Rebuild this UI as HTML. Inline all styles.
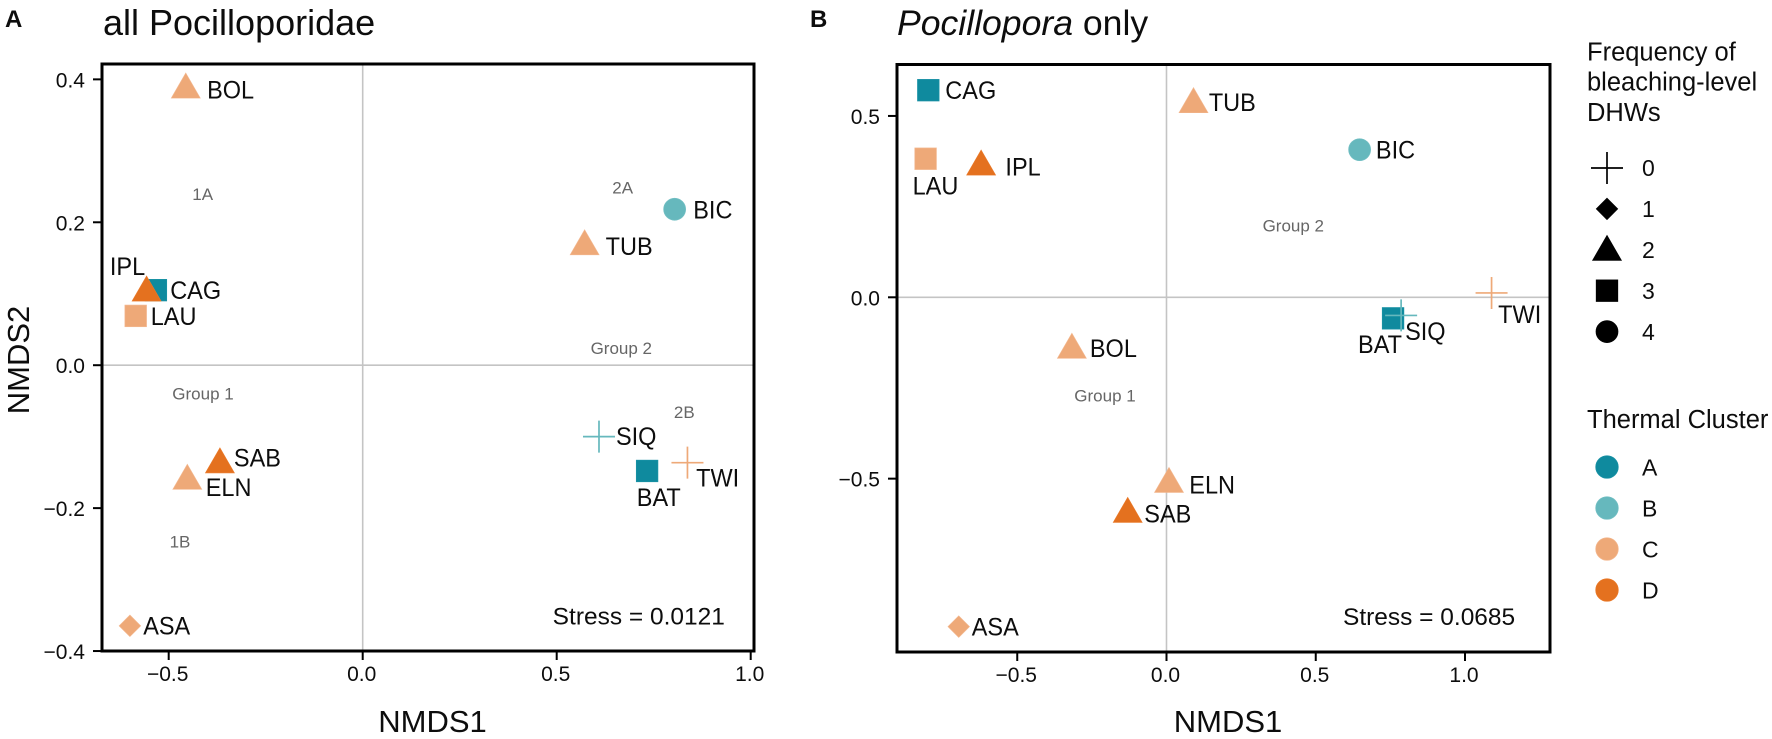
<!DOCTYPE html>
<html lang="en">
<head>
<meta charset="utf-8">
<title>NMDS ordination of Pocilloporidae</title>
<style>
html,body{margin:0;padding:0;background:#fff;width:1772px;height:739px;overflow:hidden}
svg{display:block;font-family:"Liberation Sans",Arial,sans-serif}
text{fill:#0d0d0d}
.note{fill:#666;font-size:17px;text-anchor:middle}
</style>
</head>
<body>
<svg id="figure" width="1772" height="739" viewBox="0 0 1772 739" xmlns="http://www.w3.org/2000/svg">
  <rect width="1772" height="739" fill="#fff"/>
  <text x="5" y="27" font-size="24" font-weight="bold">A</text>
  <text x="103" y="35" font-size="36">all Pocilloporidae</text>
  <text x="810" y="27" font-size="24" font-weight="bold">B</text>
  <text x="897" y="35" font-size="35.6"><tspan font-style="italic">Pocillopora</tspan> only</text>

  <g id="panelA"></g>
  <g id="panelB"></g>

  <g>
    <text x="1587" y="60.6" font-size="25.5">Frequency of</text>
    <text x="1587" y="90.6" font-size="25.5">bleaching-level</text>
    <text x="1587" y="120.9" font-size="25.5">DHWs</text>
    <g id="freqLegend"></g>
  </g>
  <g>
    <text x="1587" y="428" font-size="25.5">Thermal Cluster</text>
    <g id="clusterLegend"></g>
  </g>
</svg>
<script>
const sitesA = ['BOL','CAG','IPL','LAU','SAB','ELN','ASA','BAT','SIQ','TWI','BIC','TUB'];
const nmds1A = [-0.456,-0.533,-0.557,-0.585,-0.368,-0.452,-0.600,0.733,0.609,0.837,0.804,0.572];
const nmds2A = [0.3855,0.105,0.1015,0.069,-0.139,-0.162,-0.3647,-0.148,-0.100,-0.1364,0.2182,0.1662];
const freqA = [2,3,2,3,2,2,1,3,0,0,4,2];
const clusterA = ['C','A','D','C','D','C','C','A','B','C','B','C'];

const sitesB = ['CAG','LAU','IPL','BOL','TUB','ELN','SAB','ASA','BAT','SIQ','TWI','BIC'];
const nmds1B = [-0.798,-0.807,-0.621,-0.317,0.0905,0.0084,-0.130,-0.696,0.759,0.786,1.089,0.647];
const nmds2B = [0.571,0.382,0.360,-0.145,0.532,-0.515,-0.5975,-0.908,-0.058,-0.050,0.012,0.407];
const freqB = [3,3,2,2,2,2,2,1,3,0,0,4];
const clusterB = ['A','C','D','C','C','C','D','C','A','B','C','B'];

const xTicksA = [-0.5,0.0,0.5,1.0];
const yTicksA = [-0.4,-0.2,0.0,0.2,0.4];
const xTicksB = [-0.5,0.0,0.5,1.0];
const yTicksB = [-0.5,0.0,0.5];

const freqLevels = [0,1,2,3,4];
const clusterLevels = ['A','B','C','D'];

/* Styling and layout (not data) */
const clusterFill = {A:'#0f8a9e',B:'#66b8bd',C:'#eea978',D:'#e4711f'};
const clusterEdge = {A:'#1b93a6',B:'#74c0c4',C:'#f3b890',D:'#ea7a2a'};
const labelNudgeA = {BOL:[21.3,9],IPL:[-36.7,-17.7],CAG:[14.3,9],LAU:[15,9.3],SAB:[14,2.2],ELN:[18.4,15],ASA:[13.3,8.6],SIQ:[17,8.3],BAT:[-10.3,35],TWI:[8.7,24],BIC:[18.6,9],TUB:[21,8.6]};
const labelNudgeB = {CAG:[17,9],LAU:[-13,36],IPL:[24.3,9],BOL:[18,7.3],TUB:[15.3,6.5],ELN:[20.3,9.3],SAB:[16.6,8.7],ASA:[13,9],SIQ:[4,24.5],BAT:[-35,34.6],TWI:[6.6,30],BIC:[16.3,9]};
const SVGNS = 'http://www.w3.org/2000/svg';

function svgEl(tag, attrs, parent){
  const el = document.createElementNS(SVGNS, tag);
  for (const k in attrs) el.setAttribute(k, attrs[k]);
  parent.appendChild(el);
  return el;
}
function fmt(v){
  return (v < 0 ? '\u2212' : '') + Math.abs(v).toFixed(1);
}
function squeeze(el, factor){
  const len = el.getComputedTextLength();
  el.setAttribute('textLength', (len * factor).toFixed(2));
  el.setAttribute('lengthAdjust', 'spacingAndGlyphs');
}
function drawMarker(parent, freq, cx, cy, fill, edge){
  let el;
  if (freq === 0) {
    const h = 16;
    el = svgEl('path', {d:`M${cx-h} ${cy}H${cx+h}M${cx} ${cy-h}V${cy+h}`, fill:'none', stroke:fill, 'stroke-width':1.7}, parent);
  } else if (freq === 1) {
    const h = 10.8;
    el = svgEl('path', {d:`M${cx} ${cy-h}L${cx+h} ${cy}L${cx} ${cy+h}L${cx-h} ${cy}Z`, fill:fill, stroke:edge, 'stroke-width':0.6}, parent);
  } else if (freq === 2) {
    el = svgEl('path', {d:`M${cx} ${cy-16.7}L${cx+14.5} ${cy+8.4}L${cx-14.5} ${cy+8.4}Z`, fill:fill, stroke:edge, 'stroke-width':0.6}, parent);
  } else if (freq === 3) {
    el = svgEl('rect', {x:cx-10.8, y:cy-10.8, width:21.6, height:21.6, fill:fill, stroke:edge, 'stroke-width':0.7}, parent);
  } else {
    el = svgEl('circle', {cx:cx, cy:cy, r:11, fill:fill, stroke:edge, 'stroke-width':0.7}, parent);
  }
  return el;
}

function drawPanel(root, id, o){
  const xs = v => o.x0 + o.xk * v;
  const ys = v => o.y0 - o.yk * v;

  const zeroV = svgEl('line', {x1:xs(0), x2:xs(0), y1:o.top, y2:o.bottom, stroke:'#c4c4c4', 'stroke-width':1.6}, root);
  
  
  const zeroH = svgEl('line', {x1:o.left, x2:o.right, y1:ys(0), y2:ys(0), stroke:'#c4c4c4', 'stroke-width':1.6}, root);
  
  

  o.xTicks.forEach(function(t){
    const tick = svgEl('line', {x1:xs(t), x2:xs(t), y1:o.bottom, y2:o.bottom+9, stroke:'#000', 'stroke-width':2}, root);
    
    
    const lab = svgEl('text', {x:xs(t)-1, y:o.xLabelY, 'font-size':21, 'text-anchor':'middle'}, root);
    lab.textContent = fmt(t);
    
    
  });
  o.yTicks.forEach(function(t){
    const tick = svgEl('line', {x1:o.left-9, x2:o.left, y1:ys(t), y2:ys(t), stroke:'#000', 'stroke-width':2}, root);
    
    
    const lab = svgEl('text', {x:o.left-17, y:ys(t)+8, 'font-size':21, 'text-anchor':'end'}, root);
    lab.textContent = fmt(t);
    
    
  });

  o.notes.forEach(function(n){
    const note = svgEl('text', {x:n[1], y:n[2], class:'note'}, root);
    note.textContent = n[0];
    
    
  });

  o.sites.forEach(function(site, i){
    const cx = xs(o.nmds1[i]);
    const cy = ys(o.nmds2[i]);
    const mark = drawMarker(root, o.freq[i], cx, cy, clusterFill[o.cluster[i]], clusterEdge[o.cluster[i]]);
    
    
  });
  o.sites.forEach(function(site, i){
    const cx = xs(o.nmds1[i]);
    const cy = ys(o.nmds2[i]);
    const nudge = o.nudge[site];
    const lab = svgEl('text', {x:cx+nudge[0], y:cy+nudge[1], 'font-size':25}, root);
    lab.textContent = site;
    
    
    squeeze(lab, 0.94);
  });

  const stress = svgEl('text', {x:o.stressX, y:o.stressY, 'font-size':24}, root);
  stress.textContent = o.stress;
  
  
  squeeze(stress, 1.02);

  const frame = svgEl('rect', {x:o.left, y:o.top, width:o.right-o.left, height:o.bottom-o.top, fill:'none', stroke:'#000', 'stroke-width':3}, root);
  
  

  const xt = svgEl('text', {x:o.xTitleX, y:732, 'font-size':31, 'text-anchor':'middle'}, root);
  xt.textContent = 'NMDS1';
  
  

  if (o.yTitleX) {
    const yt = svgEl('text', {x:0, y:0, 'font-size':31, 'text-anchor':'middle', transform:`translate(${o.yTitleX},360) rotate(-90)`}, root);
    yt.textContent = 'NMDS2';
    
    
  }
}

drawPanel(document.getElementById('panelA'), 'panel-a', {
  x0:362.7, xk:388, y0:365.2, yk:714.6,
  left:102, right:754, top:64, bottom:651,
  xLabelY:681, xTitleX:432.5, yTitleX:29,
  xTicks:xTicksA, yTicks:yTicksA,
  sites:sitesA, nmds1:nmds1A, nmds2:nmds2A, freq:freqA, cluster:clusterA, nudge:labelNudgeA,
  notes:[['1A',202.7,200],['2A',622.7,193.3],['Group 1',203,399.3],['Group 2',621.3,354],['2B',684.3,418],['1B',180,547.3]],
  stress:'Stress = 0.0121', stressX:552.7, stressY:624.7
});
drawPanel(document.getElementById('panelB'), 'panel-b', {
  x0:1166.5, xk:298.5, y0:297.3, yk:362.7,
  left:897, right:1550, top:64.5, bottom:652,
  xLabelY:682, xTitleX:1228, yTitleX:0,
  xTicks:xTicksB, yTicks:yTicksB,
  sites:sitesB, nmds1:nmds1B, nmds2:nmds2B, freq:freqB, cluster:clusterB, nudge:labelNudgeB,
  notes:[['Group 2',1293.3,231.7],['Group 1',1105,401.7]],
  stress:'Stress = 0.0685', stressX:1343, stressY:625
});

const freqRoot = document.getElementById('freqLegend');
freqLevels.forEach(function(level, i){
  const cy = 168 + 40.9 * i + (level === 2 ? 2.2 : 0);
  const mark = drawMarker(freqRoot, level, 1607, cy, '#000', '#000');
  
  
  const lab = svgEl('text', {x:1642, y:176 + 41 * i, 'font-size':23}, freqRoot);
  lab.textContent = String(level);
  
  
});

const clusterRoot = document.getElementById('clusterLegend');
clusterLevels.forEach(function(level, i){
  const swatch = svgEl('circle', {cx:1607, cy:467 + 41 * i, r:11.3, fill:clusterFill[level], stroke:clusterEdge[level], 'stroke-width':0.7}, clusterRoot);
  
  
  const lab = svgEl('text', {x:1642, y:475.3 + 41 * i, 'font-size':23}, clusterRoot);
  lab.textContent = level;
  
  
});
</script>
</body>
</html>
